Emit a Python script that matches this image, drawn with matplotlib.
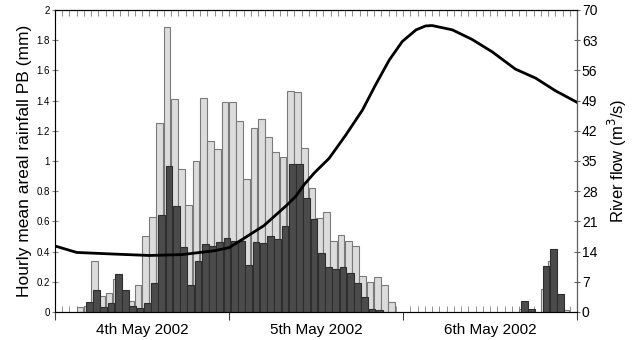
import numpy as np
import matplotlib.pyplot as plt

plt.rcParams['font.family'] = ['Liberation Sans', 'DejaVu Sans']

# hourly rainfall (mm), hour index 0..71 starting 4th May 00:00
rain_light = [0, 0, 0, 0.035, 0.04, 0.335, 0.108, 0.128, 0.22, 0.05,
              0.07, 0.177, 0.50, 0.63, 1.254, 1.885, 1.41, 0.95, 0.71, 1.00,
              1.42, 1.13, 1.08, 1.39, 1.39, 1.267, 0.879, 1.22, 1.276, 1.157,
              1.057, 1.024, 1.466, 1.455, 1.084, 0.82, 0.62, 0.66, 0.472, 0.51,
              0.47, 0.44, 0.24, 0.197, 0.23, 0.177, 0.064, 0, 0, 0,
              0, 0, 0, 0, 0, 0, 0, 0, 0, 0,
              0, 0, 0, 0, 0.02, 0.01, 0, 0.15, 0.338, 0.075,
              0.01, 0]
rain_dark = [0, 0, 0, 0, 0.064, 0.146, 0.033, 0.057, 0.25, 0.146,
             0.042, 0.028, 0.057, 0.194, 0.64, 0.967, 0.70, 0.43, 0.177, 0.338,
             0.448, 0.437, 0.464, 0.488, 0.47, 0.47, 0.311, 0.466, 0.455, 0.503,
             0.483, 0.572, 0.98, 0.98, 0.755, 0.615, 0.393, 0.296, 0.283, 0.296,
             0.26, 0.19, 0.097, 0.018, 0.013, 0, 0, 0, 0, 0,
             0, 0, 0, 0, 0, 0, 0, 0, 0, 0,
             0, 0, 0, 0, 0.073, 0.02, 0, 0.305, 0.417, 0.119,
             0, 0]

# river flow (m3/s) read at these hours
flow_hours = [0, 3, 8.5, 13, 17.5, 22, 24, 26, 28.8, 32, 33.2, 34.4, 35.8,
              37.8, 40.1, 42.4, 44.2, 46.1, 47.9, 49.8, 51.1, 52, 54.8,
              57.5, 60.3, 63.5, 66.3, 69, 72]
flow = [15.3, 13.8, 13.4, 13.1, 13.3, 14.2, 14.9, 17.0, 20.0, 24.8, 26.8,
        29.6, 32.3, 35.6, 41.0, 46.8, 52.6, 58.4, 62.7, 65.4, 66.3, 66.4,
        65.4, 63.2, 60.3, 56.3, 54.2, 51.3, 48.6]

day_labels = ['4th May 2002', '5th May 2002', '6th May 2002']

hours = np.arange(len(rain_light))
light = np.array(rain_light, dtype=float)
dark = np.array(rain_dark, dtype=float)

fig = plt.figure(figsize=(6.44, 3.4), dpi=100)
ax = fig.add_axes([0.0854, 0.0824, 0.8106, 0.8882])

ml = light > 0
md = dark > 0
ax.bar(hours[ml] + 0.45, light[ml], width=0.95, color='#dcdcdc',
       edgecolor='#7a7a7a', linewidth=0.8, zorder=2)
ax.bar(hours[md] + 0.72, dark[md], width=0.95, color='#4b4b4b',
       edgecolor='#2e2e2e', linewidth=0.8, zorder=3)

ax.set_xlim(0, 72)
ax.set_ylim(0, 2)
ax.set_yticks(np.arange(0, 2.01, 0.2))
ax.set_yticklabels(['%g' % v for v in np.round(np.arange(0, 2.01, 0.2), 1)])
ax.tick_params(axis='y', direction='inout', length=5, labelsize=7,
               color='#808080', pad=1)
ax.set_ylabel('Hourly mean areal rainfall PB (mm)', fontsize=12.5, labelpad=3)

ax.set_xticks([0, 24, 48, 72])
ax.set_xticklabels([])
ax.set_xticks(np.arange(0, 73, 1), minor=True)
ax.tick_params(axis='x', which='major', direction='out', length=6,
               color='#404040')
ax.tick_params(axis='x', which='minor', direction='in', length=4,
               color='#808080')
for i, lab in enumerate(day_labels):
    ax.text(12 + 24 * i, -0.035, lab, transform=ax.get_xaxis_transform(),
            ha='center', va='top', fontsize=11)

top = ax.secondary_xaxis('top')
top.set_xticks(np.arange(0, 73, 1))
top.set_xticklabels([])
top.tick_params(direction='in', length=4, color='#909090')
top.spines['top'].set_color('#909090')

for s in ['left', 'top']:
    ax.spines[s].set_color('#808080')
ax.spines['bottom'].set_color('#303030')

ax2 = ax.twinx()
ax2.plot(flow_hours, flow, color='black', linewidth=2, zorder=5)
ax2.set_ylim(0, 70)
ax2.set_yticks(np.arange(0, 71, 7))
ax2.tick_params(axis='y', direction='inout', length=5, labelsize=10,
                color='#606060', pad=1)
ax2.spines['right'].set_color('#606060')
ax2.set_ylabel('River flow (m$^3$/s)', fontsize=12, labelpad=6)

fig.savefig('out.png', dpi=100)
